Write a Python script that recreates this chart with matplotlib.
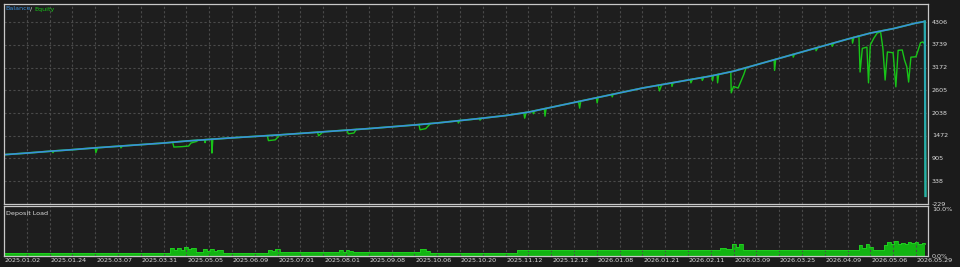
#!/usr/bin/env python3

import numpy as np
import matplotlib.pyplot as plt

nan = np.nan

# x axis = position along the test (one unit per vertical grid line)
dates = ["2025.01.02", "2025.01.24", "2025.03.07", "2025.03.31", "2025.05.05",
         "2025.06.09", "2025.07.01", "2025.08.01", "2025.09.08", "2025.10.06",
         "2025.10.20", "2025.11.12", "2025.12.12", "2026.01.08", "2026.01.21",
         "2026.02.11", "2026.03.09", "2026.03.25", "2026.04.09", "2026.05.06",
         "2026.05.29"]
y_ticks = [-229, 338, 905, 1472, 2038, 2605, 3172, 3739, 4306]

bal_x = list(range(41)) + [40.39, 40.42]
balance = [1000, 1040, 1085, 1125, 1170, 1210, 1250, 1290, 1340, 1380,
           1420, 1455, 1490, 1530, 1570, 1610, 1650, 1695, 1740, 1790,
           1850, 1910, 1975, 2060, 2180, 2300, 2420, 2540, 2660, 2760,
           2860, 2960, 3080, 3240, 3400, 3560, 3720, 3880, 4030, 4140,
           4280, 4320, -30]

# equity drawdowns (where equity leaves the balance line)
eq_x = [2.1, 2.15, 2.2, nan,
        4.0, 4.03, 4.1, nan,
        5.1, 5.13, 5.2, nan,
        7.4, 7.45, 7.8, 8.1, 8.2, 8.45, 8.5, nan,
        8.8, 8.82, 8.85, nan,
        9.1, 9.12, 9.16, nan,
        11.55, 11.6, 11.9, 12.1, nan,
        13.75, 13.8, 14.0, nan,
        15.05, 15.1, 15.35, 15.45, nan,
        18.2, 18.25, 18.5, 18.7, nan,
        19.9, 19.93, 20.0, nan,
        20.85, 20.88, 20.95, nan,
        22.8, 22.84, 22.9, nan,
        23.2, 23.22, 23.28, nan,
        23.7, 23.73, 23.78, nan,
        25.2, 25.25, 25.3, nan,
        25.98, 26.02, 26.06, nan,
        26.65, 26.68, 26.72, nan,
        28.7, 28.75, 28.85, nan,
        29.28, 29.3, 29.35, nan,
        30.1, 30.13, 30.2, nan,
        30.6, 30.63, 30.7, nan,
        31.05, 31.08, 31.12, nan,
        31.28, 31.3, 31.35, nan,
        31.88, 31.9, 32.0, 32.2, 32.35, 32.45, 32.55, nan,
        33.78, 33.8, 33.85, nan,
        34.6, 34.62, 34.68, nan,
        35.6, 35.62, 35.7, nan,
        36.3, 36.33, 36.4, nan,
        37.2, 37.22, 37.28, nan,
        37.4, 37.5, 37.55, 37.65, 37.85, 37.92, 38.0, 38.15, 38.3, 38.45,
        38.55, 38.65, 38.75, 39.0, 39.12, 39.22, 39.4, 39.5, 39.6, 39.68,
        39.78, 40.0, 40.1, 40.2, 40.3, 40.39, 40.42]
equity = [1089, 1050, 1090, nan,
          1170, 1050, 1172, nan,
          1214, 1170, 1218, nan,
          1310, 1190, 1200, 1215, 1290, 1330, 1360, nan,
          1372, 1300, 1374, nan,
          1384, 1040, 1386, nan,
          1474, 1350, 1370, 1493, nan,
          1560, 1470, 1570, nan,
          1612, 1520, 1540, 1628, nan,
          1749, 1620, 1650, 1772, nan,
          1844, 1790, 1850, nan,
          1901, 1860, 1905, nan,
          2043, 1910, 2051, nan,
          2084, 2020, 2094, nan,
          2144, 1960, 2150, nan,
          2324, 2160, 2336, nan,
          2418, 2290, 2427, nan,
          2498, 2440, 2506, nan,
          2730, 2590, 2745, nan,
          2788, 2700, 2795, nan,
          2870, 2790, 2880, nan,
          2920, 2850, 2930, nan,
          2966, 2840, 2974, nan,
          2994, 2790, 3002, nan,
          3066, 2540, 2700, 2660, 2860, 3000, 3168, nan,
          3365, 3100, 3376, nan,
          3496, 3430, 3509, nan,
          3656, 3590, 3672, nan,
          3768, 3700, 3784, nan,
          3910, 3780, 3925, nan,
          3940, 3955, 3060, 3650, 3680, 2790, 3735, 3900, 4030, 4060,
          3660, 2860, 3560, 3540, 2690, 3600, 3610, 3360, 3190, 2810,
          3430, 3440, 3610, 3790, 3810, 3760, -30]

# deposit load, %
load_x = [0, 7.3, 7.45, 7.6, 7.75, 7.9, 8.05, 8.2, 8.4, 8.75,
          8.9, 9.05, 9.2, 9.35, 9.6, 11.6, 11.75, 11.9, 12.1, 13.0,
          14.7, 14.85, 15.0, 15.15, 15.3, 18.25, 18.5, 18.7, 22.5, 31.4,
          31.65, 31.95, 32.1, 32.25, 32.4, 37.5, 37.65, 37.8, 37.95, 38.1,
          38.6, 38.75, 38.9, 39.05, 39.2, 39.35, 39.5, 39.65, 39.8, 39.95,
          40.1, 40.25, 40.4]
load = [0.6, 1.6, 1.2, 1.7, 1.3, 1.8, 1.4, 1.6, 0.8, 1.5,
        1.0, 1.4, 1.1, 1.3, 0.6, 1.3, 1.0, 1.4, 0.8, 0.9,
        1.3, 0.9, 1.3, 1.0, 0.8, 1.4, 1.0, 0.7, 1.2, 1.7,
        1.5, 2.6, 1.8, 2.6, 1.2, 2.2, 1.6, 2.6, 1.8, 1.2,
        2.3, 3.0, 2.6, 3.2, 2.6, 2.8, 2.5, 3.0, 2.7, 2.9,
        2.6, 2.8, 2.5]

bg = "#1e1e1e"
frame = "#c8c8c8"
txt = "#dcdcdc"
grid = "#4a4a4a"
fs = 4.6

fig = plt.figure(figsize=(9.6, 2.67), dpi=100, facecolor="#1b1b1b")
ax = fig.add_axes([4/960, 1 - 204/267, 924/960, 200/267])
ax2 = fig.add_axes([4/960, 1 - 256/267, 924/960, 50/267])

for a in (ax, ax2):
  a.set_facecolor(bg)
  a.set_xlim(0, 40.53)
  a.set_xticks(range(41))
  a.set_xticklabels([])
  a.tick_params(length=0, labelleft=False, labelbottom=False)
  a.grid(True, axis="x", color=grid, ls=(0, (2, 2)), lw=0.8)
  for s in a.spines.values():
    s.set_color(frame)
    s.set_linewidth(0.9)

ax.set_ylim(-229, 4755)
ax.set_yticks(y_ticks)
ax.set_yticklabels([])
ax.grid(True, axis="y", color=grid, ls=(0, (2, 2)), lw=0.8)
ax2.set_ylim(0, 10.4)
ax2.set_yticks([])

# equity under balance
ax.plot(bal_x, balance, color="#16b816", lw=1.3)
ax.plot(eq_x, equity, color="#18c418", lw=1.0)
ax.plot(bal_x[:-1], balance[:-1], color="#3a8fdc", lw=1.2)
ax.plot(bal_x[-2:], balance[-2:], color="#2aa8b0", lw=1.6)

ax2.fill_between(load_x, load, step="post", color="#12b412", lw=0)
ax2.step(load_x, load, where="post", color="#22d022", lw=0.6)

for v in y_ticks:
  ax.text(1.0043, v, str(v), transform=ax.get_yaxis_transform(),
          color=txt, fontsize=fs, va="center", ha="left")
ax2.text(1.0043, 9.6, "10.0%", transform=ax2.get_yaxis_transform(),
         color=txt, fontsize=fs, va="center", ha="left")
ax2.text(1.0043, 0.0, "0.0%", transform=ax2.get_yaxis_transform(),
         color=txt, fontsize=fs, va="center", ha="left")

for i, d in enumerate(dates):
  ax2.text(i * 2 + 0.04, -0.1, d, transform=ax2.get_xaxis_transform(),
           color=txt, fontsize=fs, va="center", ha="left")

fig.text(5/960, 1 - 9/267, "Balance", color="#3a8fdc", fontsize=fs, va="center")
fig.text(30/960, 1 - 9/267, "/", color=txt, fontsize=fs, va="center")
fig.text(34/960, 1 - 9/267, "Equity", color="#18c418", fontsize=fs, va="center")
ax2.text(0.002, 0.86, "Deposit Load", transform=ax2.transAxes,
         color=txt, fontsize=fs, va="center", ha="left")

plt.savefig("out.png", dpi=100, facecolor=fig.get_facecolor())
#plt.show()
